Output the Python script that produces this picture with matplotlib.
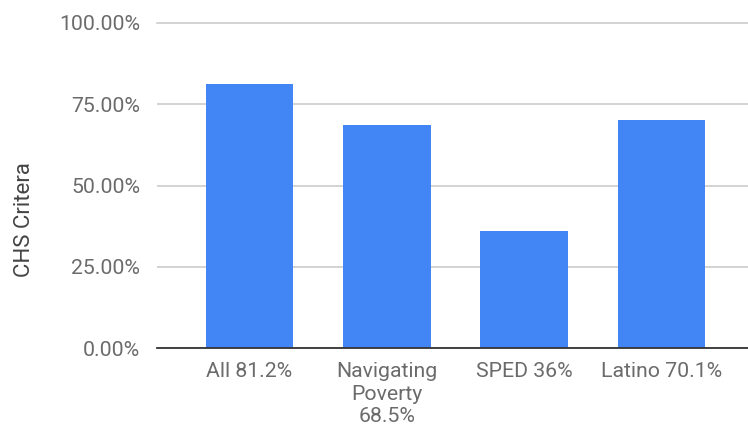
import matplotlib
matplotlib.use("Agg")
import matplotlib.pyplot as plt
import numpy as np
from matplotlib.ticker import FuncFormatter

# данные
categories = ["All 81.2%", "Navigating\nPoverty\n68.5%", "SPED 36%", "Latino 70.1%"]
values = [81.2, 68.5, 36.0, 70.1]
yticks = [0, 25, 50, 75, 100]

plt.rcParams['font.family'] = ['Roboto', 'DejaVu Sans']

fig = plt.figure(figsize=(7.48, 4.28), dpi=100)
ax = fig.add_axes([157 / 748, 1 - 348 / 428, 1 - 157 / 748, (348 - 23) / 428])

x = np.arange(len(categories))
ax.bar(x, values, width=0.64, color='#4285F4', zorder=3)

ax.set_xlim(-0.674, 3.63)
ax.set_ylim(0, 100)
ax.set_yticks(yticks)
ax.yaxis.set_major_formatter(FuncFormatter(lambda v, p: f"{v:.2f}%"))
ax.set_xticks(x)
ax.set_xticklabels(categories, linespacing=1.25)

ax.grid(axis='y', color='#cccccc', linewidth=1.2, zorder=0)
for s in ['top', 'right', 'left']:
    ax.spines[s].set_visible(False)
ax.spines['bottom'].set_color('#333333')
ax.spines['bottom'].set_linewidth(1.3)
ax.spines['bottom'].set_zorder(4)

ax.tick_params(axis='both', length=0, labelsize=15.3, labelcolor='#6b6b6b')
ax.tick_params(axis='y', pad=12)
ax.tick_params(axis='x', pad=10)

ax.set_ylabel("CHS Critera", fontsize=16, color='#444444')
ax.yaxis.set_label_coords(35 / 748, 1 - 220 / 428, transform=fig.transFigure)
ax.yaxis.get_gridlines()[-1].set_clip_on(False)

fig.savefig("out.png", dpi=100)
